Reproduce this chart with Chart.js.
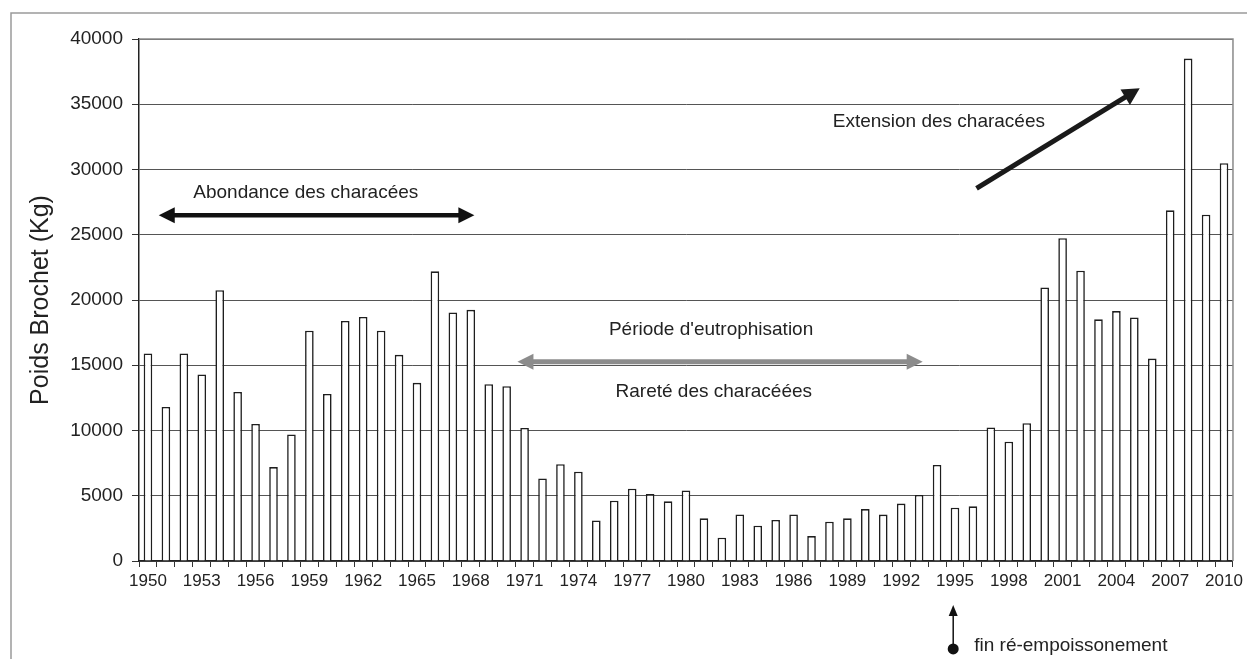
<!DOCTYPE html>
<html>
<head>
<meta charset="utf-8">
<script src="https://cdn.jsdelivr.net/npm/chart.js@4.4.1/dist/chart.umd.min.js"></script>
<style>
  html, body { margin: 0; padding: 0; background: #fff; }
  #wrap { width: 1247px; height: 659px; position: relative; }
</style>
</head>
<body>
<div id="wrap"><canvas id="chart" width="1247" height="659"></canvas></div>
<script>
// annees de peche
var annees = ['1950','1951','1952','1953','1954','1955','1956','1957','1958','1959',
  '1960','1961','1962','1963','1964','1965','1966','1967','1968','1969',
  '1970','1971','1972','1973','1974','1975','1976','1977','1978','1979',
  '1980','1981','1982','1983','1984','1985','1986','1987','1988','1989',
  '1990','1991','1992','1993','1994','1995','1996','1997','1998','1999',
  '2000','2001','2002','2003','2004','2005','2006','2007','2008','2009','2010'];

// poids brochet (kg)
var poids = [15900, 11800, 15900, 14300, 20750, 12950, 10500, 7200, 9700, 17650,
  12800, 18400, 18700, 17650, 15800, 13650, 22200, 19050, 19250, 13550,
  13400, 10200, 6330, 7420, 6840, 3110, 4620, 5540, 5130, 4570,
  5410, 3270, 1790, 3570, 2700, 3140, 3570, 1910, 3010, 3270,
  3980, 3560, 4400, 5060, 7360, 4080, 4190, 10230, 9140, 10560,
  20960, 24730, 22240, 18520, 19150, 18660, 15510, 26870, 38500, 26540, 30480];

var yTicks = [0, 5000, 10000, 15000, 20000, 25000, 30000, 35000, 40000];

// annotations : [annee, valeur]
var flecheAbondance = [[1950.6, 26500], [1968.2, 26500]];
var flecheEutro = [[1970.6, 15270], [1993.2, 15270]];
var flecheExtension = [[1996.2, 28560], [2005.3, 36220]];
var flecheFin = [[1994.9, -6740], [1994.9, -3370]];
var textes = [
  { t: 'Abondance des characées', x: 1958.8, y: 28200 },
  { t: "Période d'eutrophisation", x: 1981.4, y: 17700 },
  { t: 'Rareté des characéées', x: 1981.55, y: 12970 },
  { t: 'Extension des characées', x: 1994.1, y: 33660 }
];

var police = '"Liberation Sans", Arial, sans-serif';

function xAt(chart, an) {
  var xs = chart.scales.x;
  var step = (xs.right - xs.left) / annees.length;
  return xs.left + (an - 1950 + 0.5) * step;
}
function yAt(chart, v) {
  return chart.scales.y.getPixelForValue(v);
}

function fleche(ctx, x1, y1, x2, y2, couleur, ep, tete, deuxSens) {
  var ang = Math.atan2(y2 - y1, x2 - x1);
  ctx.save();
  ctx.strokeStyle = couleur;
  ctx.fillStyle = couleur;
  ctx.lineWidth = ep;
  var l = tete.l, w = tete.w;
  var sx = deuxSens ? x1 + Math.cos(ang) * (l - 2) : x1;
  var sy = deuxSens ? y1 + Math.sin(ang) * (l - 2) : y1;
  ctx.beginPath();
  ctx.moveTo(sx, sy);
  ctx.lineTo(x2 - Math.cos(ang) * (l - 2), y2 - Math.sin(ang) * (l - 2));
  ctx.stroke();
  function pointe(px, py, a) {
    ctx.beginPath();
    ctx.moveTo(px, py);
    ctx.lineTo(px - Math.cos(a) * l - Math.sin(a) * w, py - Math.sin(a) * l + Math.cos(a) * w);
    ctx.lineTo(px - Math.cos(a) * l + Math.sin(a) * w, py - Math.sin(a) * l - Math.cos(a) * w);
    ctx.closePath();
    ctx.fill();
  }
  pointe(x2, y2, ang);
  if (deuxSens) pointe(x1, y1, ang + Math.PI);
  ctx.restore();
}

var annotations = {
  id: 'annotations',
  beforeDraw: function(chart) {
    var ctx = chart.ctx;
    ctx.save();
    ctx.strokeStyle = '#9a9a9a';
    ctx.lineWidth = 1.5;
    ctx.beginPath();
    ctx.moveTo(11, 659);
    ctx.lineTo(11, 13);
    ctx.lineTo(1247, 13);
    ctx.stroke();
    ctx.restore();
  },
  afterDraw: function(chart) {
    var ctx = chart.ctx;
    var a = chart.chartArea;
    ctx.save();
    // cadre du graphique
    ctx.strokeStyle = '#8a8a8a';
    ctx.lineWidth = 1.5;
    ctx.beginPath();
    ctx.moveTo(a.left, a.top);
    ctx.lineTo(a.right, a.top);
    ctx.lineTo(a.right, a.bottom);
    ctx.stroke();

    ctx.fillStyle = '#222';
    ctx.font = '19px ' + police;
    ctx.textAlign = 'center';
    ctx.textBaseline = 'middle';
    textes.forEach(function(t) {
      ctx.fillText(t.t, xAt(chart, t.x), yAt(chart, t.y));
    });

    var f = flecheAbondance;
    fleche(ctx, xAt(chart, f[0][0]), yAt(chart, f[0][1]), xAt(chart, f[1][0]), yAt(chart, f[1][1]),
      '#111', 4.5, { l: 16, w: 8 }, true);
    f = flecheEutro;
    fleche(ctx, xAt(chart, f[0][0]), yAt(chart, f[0][1]), xAt(chart, f[1][0]), yAt(chart, f[1][1]),
      '#8c8c8c', 5, { l: 16, w: 8 }, true);
    f = flecheExtension;
    fleche(ctx, xAt(chart, f[0][0]), yAt(chart, f[0][1]), xAt(chart, f[1][0]), yAt(chart, f[1][1]),
      '#1a1a1a', 5, { l: 17, w: 9 }, false);
    f = flecheFin;
    var fx = xAt(chart, f[0][0]);
    fleche(ctx, fx, yAt(chart, f[0][1]), fx, yAt(chart, f[1][1]), '#111', 1.5, { l: 11, w: 4.5 }, false);
    ctx.fillStyle = '#111';
    ctx.beginPath();
    ctx.arc(fx, yAt(chart, f[0][1]), 5.5, 0, Math.PI * 2);
    ctx.fill();
    ctx.fillStyle = '#222';
    ctx.textAlign = 'left';
    ctx.font = '19px ' + police;
    ctx.fillText('fin ré-empoissonement', fx + 21, yAt(chart, f[0][1]) - 3);
    ctx.restore();
  }
};

new Chart(document.getElementById('chart'), {
  type: 'bar',
  data: {
    labels: annees,
    datasets: [{
      data: poids,
      backgroundColor: '#ffffff',
      borderColor: '#1e1e1e',
      borderWidth: 1.6,
      barPercentage: 0.48,
      categoryPercentage: 1
    }]
  },
  options: {
    responsive: false,
    animation: false,
    devicePixelRatio: 1,
    layout: { padding: { left: 0, top: 39, right: 10, bottom: 0 } },
    plugins: { legend: { display: false }, tooltip: { enabled: false } },
    scales: {
      x: {
        offset: true,
        grid: { offset: true, drawOnChartArea: false, drawTicks: true, tickLength: 6, color: '#333', lineWidth: 1 },
        border: { color: '#222', width: 1.5 },
        ticks: {
          autoSkip: false,
          maxRotation: 0,
          padding: 4,
          color: '#222',
          font: { family: police, size: 17 },
          callback: function(v, i) { return i % 3 === 0 ? annees[i] : ''; }
        },
        afterFit: function(s) { s.height = 98; }
      },
      y: {
        min: 0,
        max: 40000,
        afterBuildTicks: function(s) { s.ticks = yTicks.map(function(v) { return { value: v }; }); },
        grid: { color: '#555', lineWidth: 1, borderDash: [1, 1], tickLength: 7, tickColor: '#333', tickBorderDash: [] },
        border: { color: '#222', width: 1.5 },
        ticks: {
          padding: 9, color: '#222', font: { family: police, size: 19 },
          callback: function(v) { return String(v); }
        },
        title: { display: true, text: 'Poids Brochet (Kg)', color: '#222', font: { family: police, size: 25 }, padding: { top: 26, bottom: 0 } },
        afterFit: function(s) { s.width = 139; }
      }
    }
  },
  plugins: [annotations]
});
</script>
</body>
</html>
